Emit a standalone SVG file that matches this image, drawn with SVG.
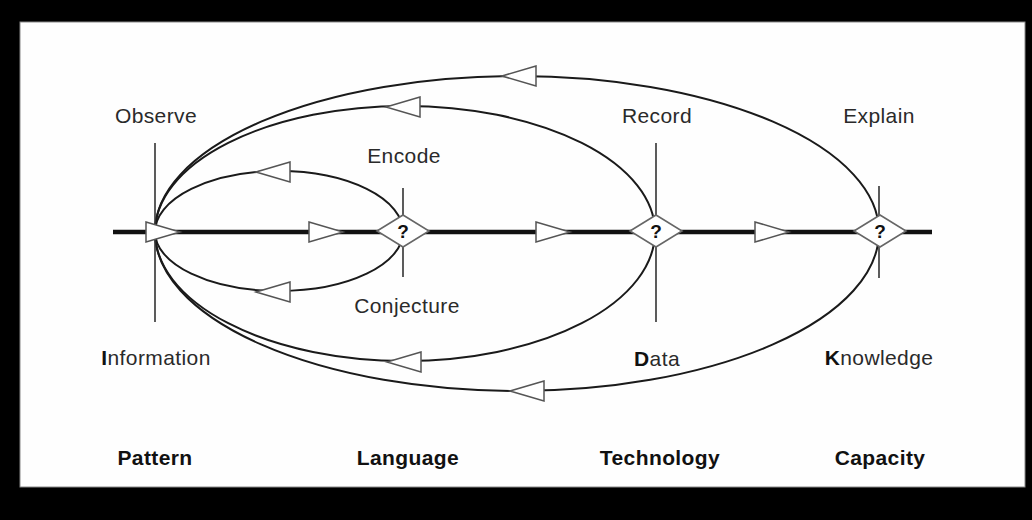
<svg xmlns="http://www.w3.org/2000/svg" xmlns:xlink="http://www.w3.org/1999/xlink" width="1032" height="520" viewBox="0 0 1032 520">
<style>
.lbl{font-family:"Liberation Sans",Arial,sans-serif;font-size:21px;fill:#2a2a2a;text-anchor:middle;letter-spacing:0.4px}
.b{font-weight:bold;fill:#111}
.q{font-family:"Liberation Sans",Arial,sans-serif;font-size:19px;font-weight:bold;fill:#111;text-anchor:middle}
.curve{fill:none;stroke:#1a1a1a;stroke-width:2}
.vline{stroke:#333;stroke-width:1.6}
.tri{fill:#fff;stroke:#555;stroke-width:1.5;stroke-linejoin:miter}
.dia{fill:#fff;stroke:#666;stroke-width:1.6}
</style>
<defs>
<polygon id="tri" class="tri" points="0,-10 34,0 0,10"/>
<polygon id="dia" class="dia" points="-26,0 0,-16 26,0 0,16"/>
</defs>
<rect x="0" y="0" width="1032" height="520" fill="#000"/>
<rect x="20" y="22" width="1005" height="465" fill="#fefefe" stroke="#888" stroke-width="1"/>

<g id="connectors">
<path class="curve" d="M155,232 A124,61 0 0 1 403,232"/>
<path class="curve" d="M155,232 A124,59 0 0 0 403,232"/>
<path class="curve" d="M155,232 A250,126 0 0 1 655,232"/>
<path class="curve" d="M155,232 A250,129 0 0 0 655,232"/>
<path class="curve" d="M155,232 A362,156 0 0 1 879,232"/>
<path class="curve" d="M155,232 A362,159 0 0 0 879,232"/>
<line x1="113" y1="232" x2="932" y2="232" stroke="#111" stroke-width="4.5"/>
<use xlink:href="#tri" transform="translate(536,76) scale(-1,1)"/>
<use xlink:href="#tri" transform="translate(420,107) scale(-1,1)"/>
<use xlink:href="#tri" transform="translate(290,172) scale(-1,1)"/>
<use xlink:href="#tri" transform="translate(290,292) scale(-1,1)"/>
<use xlink:href="#tri" transform="translate(421,362) scale(-1,1)"/>
<use xlink:href="#tri" transform="translate(544,391) scale(-1,1)"/>
<use xlink:href="#tri" transform="translate(309,232)"/>
<use xlink:href="#tri" transform="translate(536,232)"/>
<use xlink:href="#tri" transform="translate(755,232)"/>
</g>

<g id="pattern">
<line class="vline" x1="155" y1="143" x2="155" y2="322"/>
<use xlink:href="#tri" transform="translate(146,232)"/>
<text class="lbl" x="156" y="123">Observe</text>
<text class="lbl" x="156" y="365"><tspan class="b">I</tspan>nformation</text>
<text class="lbl b" x="155" y="465">Pattern</text>
</g>

<g id="language">
<line class="vline" x1="403" y1="188" x2="403" y2="277"/>
<use xlink:href="#dia" transform="translate(403,231)"/>
<text class="q" x="403" y="238">?</text>
<text class="lbl" x="404" y="163">Encode</text>
<text class="lbl" x="407" y="313">Conjecture</text>
<text class="lbl b" x="408" y="465">Language</text>
</g>

<g id="technology">
<line class="vline" x1="656" y1="143" x2="656" y2="322"/>
<use xlink:href="#dia" transform="translate(656,231)"/>
<text class="q" x="656" y="238">?</text>
<text class="lbl" x="657" y="123">Record</text>
<text class="lbl" x="657" y="366"><tspan class="b">D</tspan>ata</text>
<text class="lbl b" x="660" y="465">Technology</text>
</g>

<g id="capacity">
<line class="vline" x1="879" y1="186" x2="879" y2="278"/>
<use xlink:href="#dia" transform="translate(880,231)"/>
<text class="q" x="880" y="238">?</text>
<text class="lbl" x="879" y="123">Explain</text>
<text class="lbl" x="879" y="365"><tspan class="b">K</tspan>nowledge</text>
<text class="lbl b" x="880" y="465">Capacity</text>
</g>
</svg>
